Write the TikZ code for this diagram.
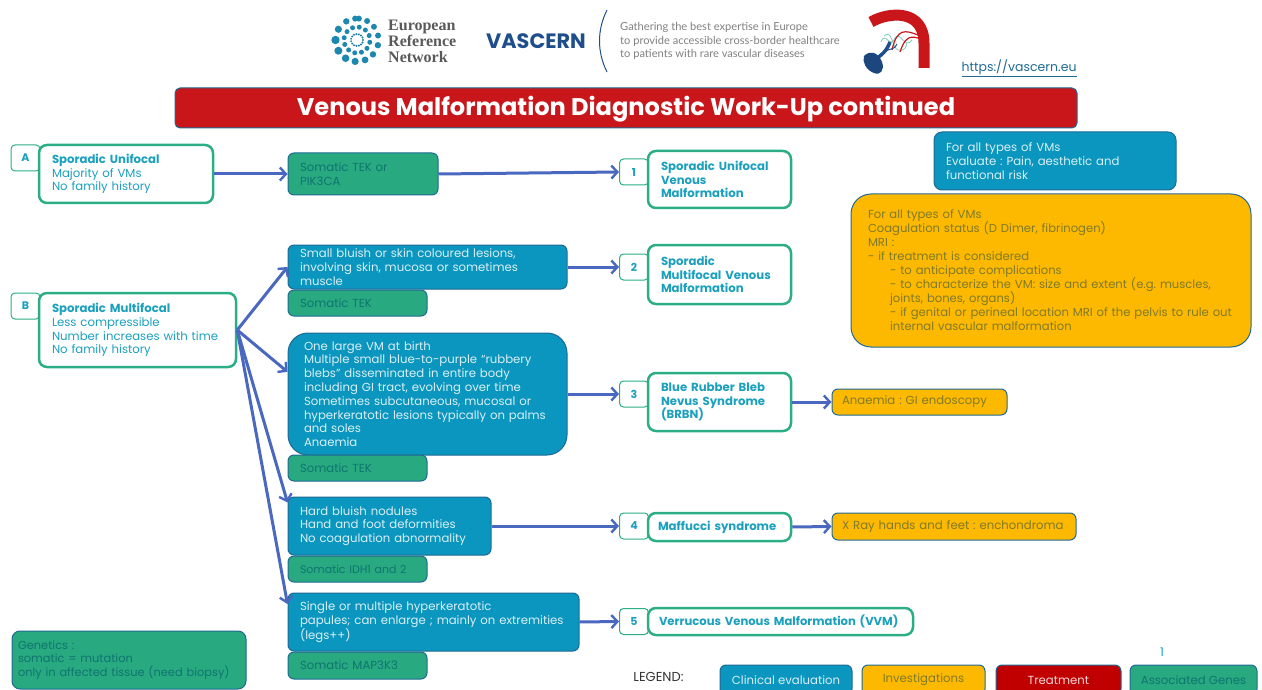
\documentclass[tikz,border=0pt]{standalone}
\usepackage{fontspec}
\setmainfont{Poppins}
\newfontfamily\logofont{Liberation Serif}
\newfontfamily\tagfont{Lato}
\usetikzlibrary{arrows.meta}
\definecolor{clinblue}{HTML}{0A96BE}
\definecolor{edgeblue}{HTML}{1F6A94}
\definecolor{invorange}{HTML}{FDB900}
\definecolor{genegreen}{HTML}{28A97F}
\definecolor{genetext}{HTML}{0F7571}
\definecolor{titlered}{HTML}{C8161B}
\definecolor{treatred}{HTML}{C00000}
\definecolor{tealborder}{HTML}{2BAE85}
\definecolor{tealtext}{HTML}{1BA0BE}
\definecolor{flowblue}{HTML}{4A68C0}
\definecolor{navy}{HTML}{1F4E8C}
\definecolor{orangetext}{HTML}{7F7A28}
\tikzset{
	box/.style={draw=edgeblue, line width=1pt, align=left, inner xsep=12pt, inner ysep=0pt, rounded corners=6pt, font=\fontsize{11.7}{13.8}\selectfont},
	clinical/.style={box, fill=clinblue, text=white!85!clinblue},
	gene/.style={box, fill=genegreen, text=genetext},
	invest/.style={box, fill=invorange, text=orangetext},
	group/.style={draw=tealborder, line width=2.5pt, fill=white, align=left, inner xsep=13pt, inner ysep=0pt, rounded corners=8pt, text=tealtext, font=\fontsize{11.7}{13.8}\selectfont},
	tag/.style={draw=tealborder, line width=1pt, fill=white, rounded corners=4pt, minimum width=29pt, minimum height=26pt, inner sep=0pt, text=tealtext, font=\fontsize{11}{13}\selectfont\bfseries},
	legendbox/.style={box, inner xsep=0pt, minimum height=30pt, align=center},
	flow/.style={draw=flowblue, line width=3pt, -{Straight Barb[length=6pt,width=13pt,line width=2.4pt]}},
}
\begin{document}
\frenchspacing
\begin{tikzpicture}[x=1pt, y=-1pt]
	\path[use as bounding box, clip] (0,0) rectangle (1262,690);

	% Logos
	\foreach \a in {0,24,...,336}
		\fill[navy!50!tealtext] ({357+6*cos(\a)},{40+6*sin(\a)}) circle (1.1pt);
	\foreach \a in {10,40,...,340}
		\fill[tealtext!70!navy] ({357+13*cos(\a)},{40+13*sin(\a)}) circle (2.5pt);
	\foreach \a/\r in {-85/3,-62/3,-38/3,-12/3,14/3.2,42/3.2,68/3.4,95/3.6,122/3.8,150/4,180/4.2,210/3.6,240/3.2,265/3}
		\fill[tealtext!70!navy] ({357+21.5*cos(\a)},{40+21.5*sin(\a)}) circle (\r pt);
	\node[anchor=west, text=black!65, align=left, inner sep=0pt, font=\logofont\fontsize{16}{16}\selectfont\bfseries] (ern) at (388,41) {European\\Reference\\Network};
	\node[anchor=west, text=navy, inner sep=0pt, font=\fontsize{20.8}{22}\selectfont\bfseries] (vascern) at (486,41) {VASCERN};
	\draw[navy, line width=1pt] (607,10) .. controls (597,30) and (597,52) .. (607,72);
	\node[anchor=west, text=black!50, align=left, inner sep=0pt, font=\tagfont\fontsize{11.1}{13.8}\selectfont] (slogan) at (620,41) {Gathering the best expertise in Europe\\to provide accessible cross-border healthcare\\to patients with rare vascular diseases};
	\draw[titlered, line width=11pt] (871,22) .. controls (888,12) and (925,8) .. (924,45) -- (924,68);
	\draw[tealborder!60, line width=0.8pt] (881,42) .. controls (885,30) and (890,50) .. (895,38) .. controls (900,30) and (905,50) .. (912,40);
	\draw[tealborder!60, line width=0.8pt] (884,36) .. controls (892,28) and (892,48) .. (898,50) .. controls (904,52) and (908,46) .. (906,42);
	\draw[titlered, line width=1.2pt] (918,35) .. controls (905,30) and (897,28) .. (892,50);
	\draw[titlered, line width=1.2pt] (918,38) .. controls (908,35) and (904,40) .. (900,52);
	\draw[navy, line width=3.5pt] (873,60) .. controls (882,56) and (887,50) .. (890,42);
	\draw[navy, line width=1pt] (884,52) .. controls (890,48) and (895,50) .. (897,44);
	\fill[navy!90!black] (864,56) .. controls (870,50) and (878,52) .. (882,62) .. controls (885,70) and (880,76) .. (874,73) .. controls (866,70) and (862,62) .. (864,56) -- cycle;
	\node[text=edgeblue, inner sep=0pt, font=\fontsize{12.5}{14}\selectfont] (link) at (1019,68) {\underline{https://vascern.eu}};

	% Title
	\node[fill=titlered, draw=edgeblue, line width=1pt, rounded corners=5pt, minimum width=902pt, minimum height=40pt, text height=20pt, text depth=4pt, text=white, font=\fontsize{24.1}{28}\selectfont\bfseries] (title) at (626,108) {Venous Malformation Diagnostic Work-Up continued};

	% Row A
	\node[tag] (tagA) at (25.5,158) {A};
	\node[group, text width=148pt, minimum height=58pt] (unifocal) at (126,174) {\textbf{Sporadic Unifocal}\\Majority of VMs\\No family history};
	\node[gene, text width=126pt, minimum height=42pt] (tekpik) at (363,174) {Somatic TEK or\\PIK3CA};
	\node[tag] (tag1) at (634,172) {1};
	\node[group, text width=117pt, minimum height=57pt, font=\fontsize{11.7}{13.8}\selectfont\bfseries] (res1) at (719.5,179.5) {Sporadic Unifocal\\Venous\\Malformation};

	% Row B
	\node[tag] (tagB) at (25.5,306) {B};
	\node[group, text width=171pt, minimum height=74pt] (multifocal) at (137.5,330) {\textbf{Sporadic Multifocal}\\Less compressible\\Number increases with time\\No family history};
	\node[clinical, text width=255pt, minimum height=44pt] (small) at (427.5,267) {Small bluish or skin coloured lesions,\\involving skin, mucosa or sometimes\\muscle};
	\node[gene, text width=115pt, minimum height=26pt] (tek2) at (357.5,303) {Somatic TEK};
	\node[tag] (tag2) at (634,267) {2};
	\node[group, text width=117pt, minimum height=59pt, font=\fontsize{11.7}{13.8}\selectfont\bfseries] (res2) at (719.5,274.5) {Sporadic\\Multifocal Venous\\Malformation};

	\node[clinical, text width=247pt, inner xsep=16pt, minimum height=122pt, rounded corners=20pt] (large) at (427.5,394) {One large VM at birth\\Multiple small blue-to-purple ``rubbery\\blebs'' disseminated in entire body\\including GI tract, evolving over time\\Sometimes subcutaneous, mucosal or\\hyperkeratotic lesions typically on palms\\and soles\\Anaemia};
	\node[gene, text width=115pt, minimum height=26pt] (tek3) at (357.5,468) {Somatic TEK};
	\node[tag] (tag3) at (634,394) {3};
	\node[group, text width=117pt, minimum height=58pt, font=\fontsize{11.7}{13.8}\selectfont\bfseries] (res3) at (719.5,402) {Blue Rubber Bleb\\Nevus Syndrome\\(BRBN)};
	\node[invest, text width=155pt, inner xsep=10pt, minimum height=26pt] (anaemia) at (919.5,402) {Anaemia : GI endoscopy};

	\node[clinical, text width=179pt, minimum height=58pt] (hard) at (389.5,526) {Hard bluish nodules\\Hand and foot deformities\\No coagulation abnormality};
	\node[gene, text width=115pt, minimum height=26pt, font=\fontsize{11}{13}\selectfont] (idh) at (357.5,569) {Somatic IDH1 and 2};
	\node[tag] (tag4) at (634,526) {4};
	\node[group, text width=123pt, inner xsep=10pt, minimum height=28pt, font=\fontsize{11.7}{13.8}\selectfont\bfseries] (res4) at (719.5,527) {Maffucci syndrome};
	\node[invest, text width=224pt, inner xsep=10pt, minimum height=27pt] (xray) at (954,526.5) {X Ray hands and feet : enchondroma};

	\node[clinical, text width=267pt, minimum height=58pt] (single) at (433.5,622) {Single or multiple hyperkeratotic\\papules; can enlarge ; mainly on extremities\\(legs++)};
	\node[gene, text width=115pt, minimum height=27pt] (map) at (357.5,665.5) {Somatic MAP3K3};
	\node[tag] (tag5) at (634,621.5) {5};
	\node[group, text width=243pt, inner xsep=11pt, minimum height=27pt, font=\fontsize{11.6}{13.8}\selectfont\bfseries] (res5) at (780.5,621.5) {Verrucous Venous Malformation (VVM)};

	% Right column
	\node[clinical, text width=218pt, minimum height=58pt, rounded corners=8pt] (allclin) at (1055,161) {For all types of VMs\\Evaluate : Pain, aesthetic and\\functional risk};
	\node[invest, text width=374pt, inner xsep=13pt, minimum height=153pt, rounded corners=20pt, font=\fontsize{11.6}{14}\selectfont] (allinv) at (1051,270.5) {\hspace*{4pt}For all types of VMs\\\hspace*{4pt}Coagulation status (D Dimer, fibrinogen)\\\hspace*{4pt}MRI :\\\hspace*{4pt}- if treatment is considered\\\hspace*{26pt}- to anticipate complications\\\hspace*{26pt}- to characterize the VM: size and extent (e.g. muscles,\\\hspace*{26pt}joints, bones, organs)\\\hspace*{26pt}- if genital or perineal location MRI of the pelvis to rule out\\\hspace*{26pt}internal vascular malformation};

	% Genetics and legend
	\node[gene, text width=222pt, inner xsep=6pt, minimum height=58pt, rounded corners=8pt, font=\fontsize{11.4}{13.8}\selectfont] (genetics) at (129,660) {Genetics :\\somatic = mutation\\only in affected tissue (need biopsy)};
	\node[text=black!80, inner sep=0pt, font=\fontsize{13}{14}\selectfont] (legend) at (658.5,677) {LEGEND:};
	\node[legendbox, fill=clinblue, text=white!85!clinblue, minimum width=132pt] (legclin) at (786,680) {Clinical evaluation};
	\node[legendbox, fill=invorange, text=orangetext, minimum width=123pt] (leginv) at (923.5,680) {Investigations};
	\node[legendbox, fill=treatred, text=white!85!treatred, minimum width=125pt] (legtreat) at (1058.5,680) {Treatment};
	\node[legendbox, fill=genegreen, text=genetext, minimum width=127pt] (leggene) at (1193.5,680) {Associated Genes};
	\node[text=tealtext, inner sep=0pt, font=\fontsize{12}{13}\selectfont] (pagenum) at (1162,652) {1};

	% Edges
	\draw[flow] (unifocal.east) -- (tekpik.west);
	\draw[flow] (tekpik.east) -- (tag1.west);
	\draw[flow] (multifocal.east) -- (small.west);
	\draw[flow] (multifocal.east) -- (large.171);
	\draw[flow] (multifocal.east) -- (hard.167);
	\draw[flow] (multifocal.east) -- (single.173);
	\draw[flow] (small.east) -- (tag2.west);
	\draw[flow] (large.east) -- (tag3.west);
	\draw[flow] (hard.east) -- (tag4.west);
	\draw[flow] (single.east) -- (tag5.west);
	\draw[flow] (res3.east) -- (anaemia.west);
	\draw[flow] (res4.east) -- (xray.west);
\end{tikzpicture}
\end{document}
